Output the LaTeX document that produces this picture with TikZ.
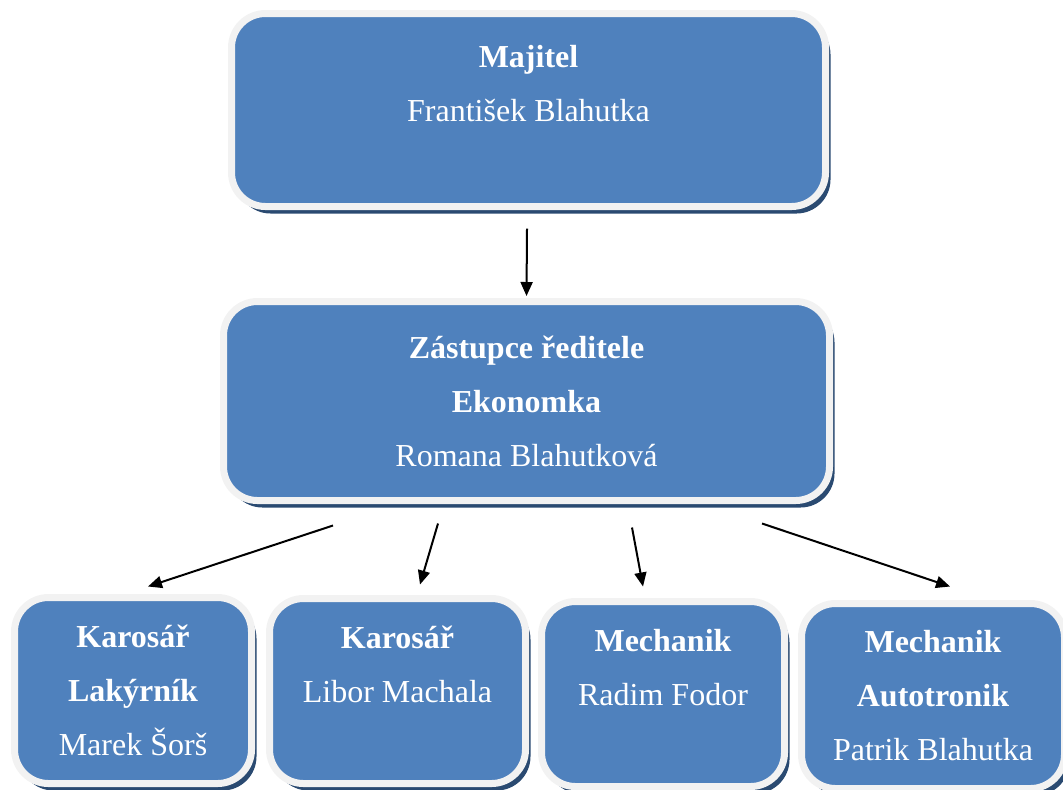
\documentclass[tikz,border=0pt]{standalone}
\usepackage{fontspec}
\setmainfont{Liberation Serif}
\usepackage{xcolor}
\usepackage{tikz}
\usetikzlibrary{arrows.meta, shadows}
\definecolor{boxBlue}{HTML}{4F81BD}
\definecolor{rimGray}{HTML}{F2F2F2}
\definecolor{shadowBlue}{HTML}{2A4A71}
\tikzset{
    orgbox/.style={rectangle, rounded corners=17pt, fill=boxBlue, draw=rimGray, line width=3.5pt, align=center, text=white, font=\fontsize{16pt}{27pt}\selectfont, inner sep=0pt, drop shadow={shadow xshift=2.5pt, shadow yshift=-3.5pt, fill=shadowBlue, opacity=1}},
    arrow/.style={-{Triangle[length=7pt, width=6pt]}, line width=1pt}
}
\begin{document}
\begin{tikzpicture}[x=0.5pt, y=-0.5pt]
        \useasboundingbox (0,0) rectangle (1063,789);
        % Top
        \node[orgbox, minimum width=297pt, minimum height=96.5pt] (Majitel) at (528.5,110) {\textbf{Majitel}\\František Blahutka\\~};
        \node[orgbox, minimum width=303pt, minimum height=99.5pt] (Zastupce) at (526.5,401) {\textbf{Zástupce ředitele}\\\textbf{Ekonomka}\\Romana Blahutková};
        
        % Staff
        \node[orgbox, minimum width=118.5pt, minimum height=93pt] (Lakyrnik) at (133,690.5) {\textbf{Karosář}\\\textbf{Lakýrník}\\Marek Šorš};
        \node[orgbox, minimum width=128pt, minimum height=92.5pt] (Karosar) at (397.5,691) {\textbf{Karosář}\\Libor Machala\\~};
        \node[orgbox, minimum width=121.5pt, minimum height=92.5pt] (Mechanik) at (663,694) {\textbf{Mechanik}\\Radim Fodor\\~};
        \node[orgbox, minimum width=131.5pt, minimum height=92.5pt] (Autotronik) at (933,696) {\textbf{Mechanik}\\\textbf{Autotronik}\\Patrik Blahutka};
        
        % Wires
        \draw[arrow] ([xshift=-0.75pt, yshift=-9.25pt]Majitel.south) -- ([yshift=1pt]Zastupce.north);
        \draw[arrow] ([xshift=-96.75pt, yshift=-10.75pt]Zastupce.south) -- ([xshift=7.5pt, yshift=3.75pt]Lakyrnik.north);
        \draw[arrow] ([xshift=-44.25pt, yshift=-9.75pt]Zastupce.south) -- ([xshift=11.25pt, yshift=5.25pt]Karosar.north);
        \draw[arrow] ([xshift=52.75pt, yshift=-11.75pt]Zastupce.south) -- ([xshift=-10pt, yshift=5.75pt]Mechanik.north);
        \draw[arrow] ([xshift=117.75pt, yshift=-9.75pt]Zastupce.south) -- ([xshift=8.5pt, yshift=6.75pt]Autotronik.north);

    \end{tikzpicture}
\end{document}
